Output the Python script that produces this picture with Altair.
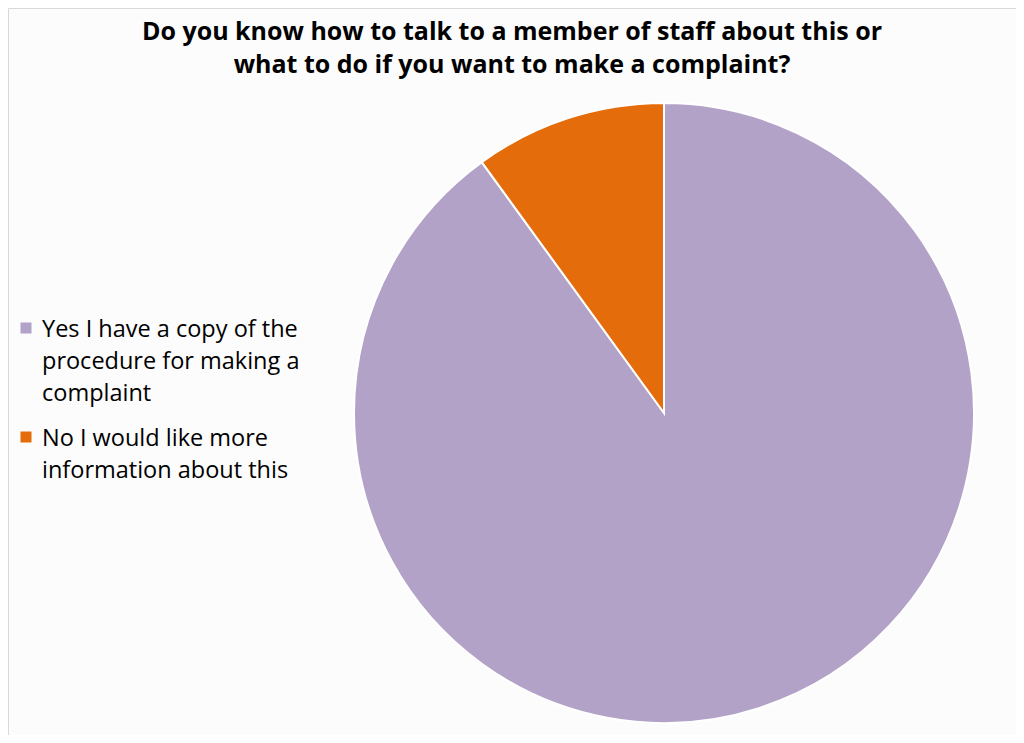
import altair as alt
import pandas as pd

categories = ["Yes I have a copy of the procedure for making a complaint",
              "No I would like more information about this"]
values = [90, 10]
order = [1, 2]
colors = ["#b3a2c7", "#e46c0a"]
legend_lines = [["Yes I have a copy of the", "procedure for making a", "complaint"],
                ["No I would like more", "information about this"]]
title_lines = ["Do you know how to talk to a member of staff about this or",
               "what to do if you want to make a complaint?"]

FONT = "Open Sans"
BG = "#fcfcfc"

df = pd.DataFrame({"category": categories, "value": values, "order": order})

pie = alt.Chart(df).mark_arc(radius=310, stroke="white", strokeWidth=2).encode(
    theta=alt.Theta("value:Q", stack=True),
    order=alt.Order("order:Q"),
    color=alt.Color("category:N", scale=alt.Scale(domain=categories, range=colors), legend=None),
    x=alt.value(656),
    y=alt.value(405),
)

title = alt.Chart(pd.DataFrame({"t": [title_lines]})).mark_text(
    font=FONT, fontSize=25, fontWeight="bold", align="center", baseline="alphabetic",
    lineHeight=33, color="black"
).encode(text="t", x=alt.value(504), y=alt.value(32))

layers = [pie, title]
legend_y = [320, 429]
for cat, lines, col, ly in zip(categories, legend_lines, colors, legend_y):
    d = pd.DataFrame({"category": [cat], "lines": [lines]})
    sq = alt.Chart(d).mark_square(size=121, color=col, opacity=1).encode(
        x=alt.value(18), y=alt.value(ly))
    tx = alt.Chart(d).mark_text(font=FONT, fontSize=23.5, align="left", baseline="alphabetic",
                                lineHeight=32, color="black").encode(
        text="lines", x=alt.value(34), y=alt.value(ly + 9))
    layers += [sq, tx]

chart = alt.layer(*layers).properties(
    width=1008, height=727, background=BG, padding=0,
    autosize=alt.AutoSizeParams(type="none")
).configure_view(stroke="#d9d9d9", strokeWidth=1)

chart.save("out.html", embed_options={"renderer": "svg", "actions": False})
